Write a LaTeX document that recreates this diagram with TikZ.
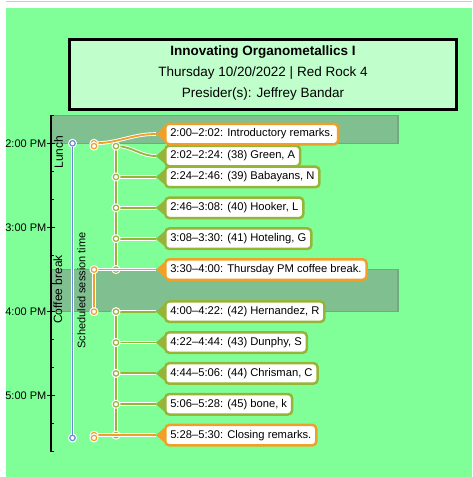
\documentclass[tikz,border=0pt]{standalone}
\usepackage{fontspec}
\setmainfont{Liberation Sans}
\definecolor{bgc}{RGB}{128,255,153}
\definecolor{titlefill}{RGB}{192,255,204}
\definecolor{bandfill}{RGB}{128,192,144}
\definecolor{banddraw}{RGB}{112,170,125}
\definecolor{orng}{RGB}{240,160,40}
\definecolor{olv}{RGB}{150,180,55}
\definecolor{blu}{RGB}{105,135,210}
\pgfdeclarelayer{back}
\pgfdeclarelayer{blayer}
\pgfdeclarelayer{olayer}
\pgfdeclarelayer{rlayer}
\pgfdeclarelayer{ptr}
\pgfsetlayers{back,blayer,olayer,rlayer,ptr,main}
\def\T#1{143.3+1.403*(#1)}
\tikzset{
  talk/.style={draw=#1, fill=white, line width=2.5pt, rounded corners=4pt,
    minimum height=20.5pt, inner xsep=5pt, inner ysep=2pt, anchor=west,
    font=\fontsize{11.2}{13}\selectfont},
  dotc/.style={circle, draw=#1, fill=white, line width=1.2pt, minimum size=5.4pt,
    inner sep=0pt, preaction={draw=white, line width=3.4pt}},
  cline/.style={draw=white, double=#1, double distance=1.8pt, line width=0.9pt},
  thinline/.style={draw=white, double=#1, double distance=1.2pt, line width=0.6pt},
  vlabel/.style={rotate=90, font=\fontsize{12}{14}\selectfont, inner sep=0pt},
  ticklabel/.style={anchor=east, font=\fontsize{11}{13}\selectfont, inner sep=0pt},
  band/.style={fill=bandfill, draw=banddraw, line width=1.2pt},
  titletext/.style={font=\fontsize{13.5}{16}\selectfont, inner sep=0pt}
}
\begin{document}
\begin{tikzpicture}[x=1pt,y=-1pt]
\useasboundingbox (0,0) rectangle (472,477);
% boxes (main layer), earliest on top
\node[talk=orng] (b11) at (164,{\T{208}}) {5:28–5:30: Closing remarks.};
\node[talk=olv] (b10) at (164,{\T{186}}) {5:06–5:28: (45) bone, k};
\node[talk=olv] (b9) at (164,{\T{164}}) {4:44–5:06: (44) Chrisman, C};
\node[talk=olv] (b8) at (164,{\T{142}}) {4:22–4:44: (43) Dunphy, S};
\node[talk=olv] (b7) at (164,{\T{120}}) {4:00–4:22: (42) Hernandez, R};
\node[talk=orng] (b6) at (164,{\T{90}}) {3:30–4:00: Thursday PM coffee break.};
\node[talk=olv] (b5) at (164,{\T{68}}) {3:08–3:30: (41) Hoteling, G};
\node[talk=olv] (b4) at (164,{\T{46}}) {2:46–3:08: (40) Hooker, L};
\node[talk=olv] (b3) at (164,{\T{24}}) {2:24–2:46: (39) Babayans, N};
\node[talk=olv] (b2) at (164,156) {2:02–2:24: (38) Green, A};
\node[talk=orng] (b1) at (164,134) {2:00–2:02: Introductory remarks.};
% pointers
\begin{pgfonlayer}{ptr}
\foreach \b/\c in {b1/orng,b2/olv,b3/olv,b4/olv,b5/olv,b6/orng,b7/olv,b8/olv,b9/olv,b10/olv,b11/orng}{
  \coordinate (p\b) at ([xshift=-8pt]\b.west);
  \fill[\c] ([yshift=7pt]\b.west) -- (p\b) -- ([yshift=-7pt]\b.west) -- cycle;
}
\end{pgfonlayer}
% background
\begin{pgfonlayer}{back}
\fill[bgc] (6,0.6) rectangle (472,1.4);
\fill[bgc] (6,8) rectangle (472,477);
\draw[band] (51,{\T{-20}}) rectangle (398,{\T{0}});
\draw[band] (51,{\T{90}}) rectangle (398,{\T{120}});
\node[draw=black, line width=3pt, fill=titlefill, minimum width=387pt, minimum height=70pt,
  inner sep=0pt] (title) at (263,74.7) {};
\node[titletext, font=\fontsize{13.5}{16}\selectfont\bfseries] (t1) at (263,51.7) {Innovating Organometallics I};
\node[titletext] (t2) at (263,73) {Thursday 10/20/2022 | Red Rock 4};
\node[titletext] (t3) at (263,94) {Presider(s): Jeffrey Bandar};
% axis
\draw[black, line width=1.1pt] (51,{\T{-20}}) -- (51,{\T{220}});
\foreach \m in {-20,0,...,220}{
  \draw[black, line width=1pt] (51,{\T{\m}}) -- (54,{\T{\m}});
}
\foreach \m/\l in {0/2:00 PM,60/3:00 PM,120/4:00 PM,180/5:00 PM}{
  \draw[black, line width=1pt] (47,{\T{\m}}) -- (55,{\T{\m}});
  \node[ticklabel] at (46.5,{\T{\m}}) {\l};
}
\node[vlabel] (lunch) at (58.5,152) {Lunch};
\node[vlabel] (coffee) at (57.8,289.5) {Coffee break};
\node[vlabel, font=\fontsize{11}{13}\selectfont] (sched) at (81.5,290.5) {Scheduled session time};
\end{pgfonlayer}
% blue session line
\begin{pgfonlayer}{blayer}
\node[dotc=blu] (s0) at (72.5,{\T{0}}) {};
\node[dotc=blu] (s1) at (72.5,{\T{210}}) {};
\draw[thinline=blu] (s0) -- (s1);
\end{pgfonlayer}
% olive talks
\begin{pgfonlayer}{olayer}
\foreach \n/\m in {0/2,1/24,2/46,3/68,4/90,5/120,6/142,7/164,8/186,9/208}{
  \coordinate (c\n) at (116,{\T{\m}});
}
\draw[cline=olv] (c0) -- (c4);
\draw[cline=olv] (c5) -- (c9);
\draw[cline=olv] (c0) to[out=0,in=180] (pb2);
\draw[cline=olv] (c1) -- (pb3);
\draw[cline=olv] (c2) -- (pb4);
\draw[cline=olv] (c3) -- (pb5);
\draw[cline=olv] (c5) -- (pb7);
\draw[cline=olv] (c6) -- (pb8);
\draw[cline=olv] (c7) -- (pb9);
\draw[cline=olv] (c8) -- (pb10);
\foreach \n in {0,...,9}{
  \node[dotc=olv] (d\n) at (c\n) {};
}
\end{pgfonlayer}
% orange events
\begin{pgfonlayer}{rlayer}
\coordinate (r1a) at (94,{\T{0}});
\coordinate (r1b) at (94,{\T{2}});
\coordinate (r2a) at (94,{\T{90}});
\coordinate (r2b) at (94,{\T{120}});
\coordinate (r3a) at (94,{\T{208}});
\coordinate (r3b) at (94,{\T{210}});
\draw[cline=orng] (r1a) to[out=0,in=180] (pb1);
\draw[cline=orng] (r2a) -- (r2b);
\draw[cline=orng] (r2a) -- (pb6);
\draw[cline=orng] (r3a) -- (pb11);
\foreach \r in {r1a,r1b,r2a,r2b,r3a,r3b}{
  \node[dotc=orng] (n\r) at (\r) {};
}
\end{pgfonlayer}
\end{tikzpicture}
\end{document}
